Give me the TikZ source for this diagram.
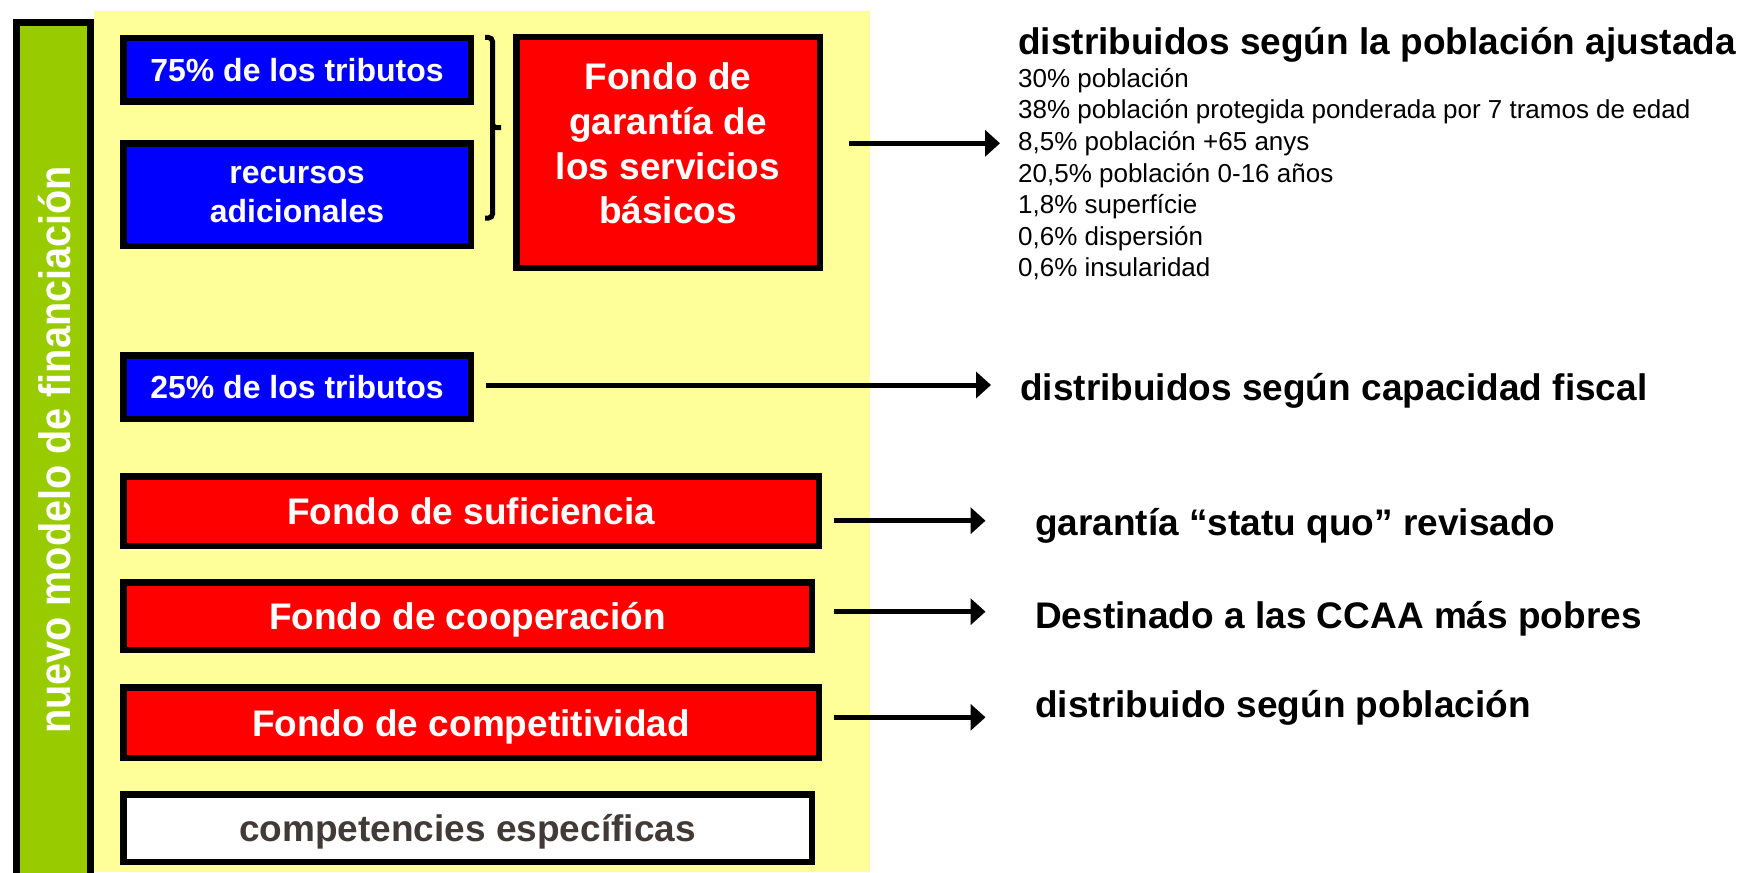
\documentclass[tikz,border=0pt]{standalone}
\usepackage{fontspec}
\setmainfont{Liberation Sans}
\usetikzlibrary{arrows.meta}
\definecolor{yellowBg}{HTML}{FFFF99}
\definecolor{greenBar}{HTML}{99CC00}
\definecolor{blueC}{HTML}{0000FF}
\definecolor{redC}{HTML}{FF0000}
\definecolor{grayT}{RGB}{66,58,54}
\tikzset{
  box/.style={draw=black, line width=6.5pt, inner sep=0pt, align=center, text=white,
    font=\bfseries\fontsize{37}{44.7}\selectfont},
  oneline/.style={text height=27pt, text depth=0pt},
  bluebox/.style={box, fill=blueC, font=\bfseries\fontsize{32}{39.3}\selectfont},
  redbox/.style={box, fill=redC},
  whitebox/.style={box, fill=white, text=grayT},
  arr/.style={line width=5pt, -{Triangle[length=15pt,width=26pt]}},
  righttxt/.style={anchor=base west, inner sep=0pt, font=\bfseries\fontsize{37}{44}\selectfont},
  listtxt/.style={anchor=base west, inner sep=0pt, font=\fontsize{26}{31.6}\selectfont},
}
\begin{document}
\begin{tikzpicture}[x=1pt,y=-1pt]
\useasboundingbox (0,0) rectangle (1744,872);
% yellow panel
\fill[yellowBg] (94,11) rectangle (870,872);
% green side bar
\draw[line width=7pt, fill=greenBar] (16.5,22.5) rectangle (90.5,885);
\node[rotate=90, anchor=base, text=white, inner sep=0pt,
  font=\bfseries\fontsize{44}{50}\selectfont] (vt) at (70,450)
  {\scalebox{0.9}[1]{nuevo modelo de financiación}};
% boxes
\node[bluebox, minimum width=347.5, minimum height=63.5] (b75) at (297,70) {75\% de los tributos};
\node[bluebox, minimum width=347.5, minimum height=102.5] (brec) at (297,194.5) {recursos\\adicionales};
\node[redbox, minimum width=303.5, minimum height=230.5] (bfgs) at (668,152.5) {};
\node[text=white, align=center, inner sep=0pt, font=\bfseries\fontsize{37}{44.7}\selectfont]
  (tfgs) at ([yshift=9pt]bfgs.center) {Fondo de\\garantía de\\los servicios\\básicos};
\node[bluebox, minimum width=347.5, minimum height=63.5] (b25) at (297,387) {25\% de los tributos};
\node[redbox, oneline, minimum width=695.5, minimum height=69.5] (bsuf) at (471,511) {Fondo de suficiencia};
\node[redbox, oneline, minimum width=688.5, minimum height=67.5] (bcoop) at (467.5,616) {Fondo de cooperación};
\node[redbox, oneline, minimum width=695.5, minimum height=70.5] (bcomp) at (471,722.5) {Fondo de competitividad};
\node[whitebox, oneline, minimum width=688.5, minimum height=67.5] (bcompe) at (467.5,828) {competencies específicas};
% brace
\draw[line width=5pt, rounded corners=4pt] (485,37.5) -| (492.5,127.7) -- (501,127.7);
\draw[line width=5pt, rounded corners=4pt] (492.5,125) |- (485,218);
% right-hand texts
\node[righttxt] (t1) at (1018,55) {distribuidos según la población ajustada};
\node[listtxt] (l1) at (1018,87.3) {30\% población};
\node[listtxt] (l2) at (1018,118.9) {38\% población protegida ponderada por 7 tramos de edad};
\node[listtxt] (l3) at (1018,150.5) {8,5\% población +65 anys};
\node[listtxt] (l4) at (1018,182.1) {20,5\% población 0-16 años};
\node[listtxt] (l5) at (1018,213.7) {1,8\% superfície};
\node[listtxt] (l6) at (1018,245.3) {0,6\% dispersión};
\node[listtxt] (l7) at (1018,276.9) {0,6\% insularidad};
\node[righttxt] (t2) at (1020,400) {distribuidos según capacidad fiscal};
\node[righttxt] (t3) at (1035,535) {garantía “statu quo” revisado};
\node[righttxt] (t4) at (1035,628) {Destinado a las CCAA más pobres};
\node[righttxt] (t5) at (1035,717) {distribuido según población};
% arrow end points
\coordinate (a1s) at (849,143.3);  \coordinate (a1e) at (1000,143.3);
\coordinate (a2s) at (486,385);    \coordinate (a2e) at (991,385);
\coordinate (a3s) at (833.5,520.7); \coordinate (a3e) at (985.5,520.7);
\coordinate (a4s) at (833.5,611.7); \coordinate (a4e) at (985.5,611.7);
\coordinate (a5s) at (833.5,717.3); \coordinate (a5e) at (985.5,717.3);
\draw[arr] (a1s) -- (a1e);
\draw[arr] (a2s) -- (a2e);
\draw[arr] (a3s) -- (a3e);
\draw[arr] (a4s) -- (a4e);
\draw[arr] (a5s) -- (a5e);
\end{tikzpicture}
\end{document}
